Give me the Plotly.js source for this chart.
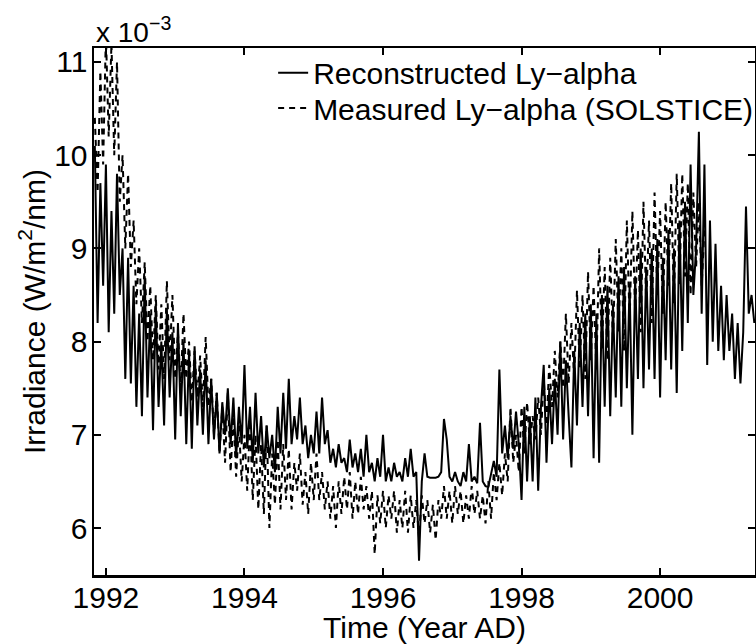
<!DOCTYPE html>
<html>
<head>
<meta charset="utf-8">
<script src="https://cdn.plot.ly/plotly-3.0.1.min.js"></script>
<style>
  html, body { margin: 0; padding: 0; background: #fff; overflow: hidden; }
  #chart { width: 766px; height: 644px; }
</style>
</head>
<body>
<div id="chart"></div>
<script>
// Time axis (Year AD), sampled roughly every half solar rotation
const years = [
  1991.84,1991.88,1991.92,1991.96,1992.00,1992.04,1992.08,1992.12,1992.16,1992.20,1992.24,1992.28,1992.32,1992.36,1992.40,1992.44,1992.48,1992.52,1992.56,1992.60,1992.64,1992.68,1992.72,1992.76,1992.80,
  1992.84,1992.88,1992.92,1992.96,1993.00,1993.04,1993.08,1993.12,1993.16,1993.20,1993.24,1993.28,1993.32,1993.36,1993.40,1993.44,1993.48,1993.52,1993.56,1993.60,1993.64,1993.68,1993.72,1993.76,1993.80,
  1993.84,1993.88,1993.92,1993.96,1994.00,1994.04,1994.08,1994.12,1994.16,1994.20,1994.24,1994.28,1994.32,1994.36,1994.40,1994.44,1994.48,1994.52,1994.56,1994.60,1994.64,1994.68,1994.72,1994.76,1994.80,
  1994.84,1994.88,1994.92,1994.96,1995.00,1995.04,1995.08,1995.12,1995.16,1995.20,1995.24,1995.28,1995.32,1995.36,1995.40,1995.44,1995.48,1995.52,1995.56,1995.60,1995.64,1995.68,1995.72,1995.76,1995.80,
  1995.84,1995.88,1995.92,1995.96,1996.00,1996.04,1996.08,1996.12,1996.16,1996.20,1996.24,1996.28,1996.32,1996.36,1996.40,1996.44,1996.48,1996.52,1996.56,1996.60,1996.64,1996.68,1996.72,1996.76,1996.80,
  1996.84,1996.88,1996.92,1996.96,1997.00,1997.04,1997.08,1997.12,1997.16,1997.20,1997.24,1997.28,1997.32,1997.36,1997.40,1997.44,1997.48,1997.52,1997.56,1997.60,1997.64,1997.68,1997.72,1997.76,1997.80,
  1997.84,1997.88,1997.92,1997.96,1998.00,1998.04,1998.08,1998.12,1998.16,1998.20,1998.24,1998.28,1998.32,1998.36,1998.40,1998.44,1998.48,1998.52,1998.56,1998.60,1998.64,1998.68,1998.72,1998.76,1998.80,
  1998.84,1998.88,1998.92,1998.96,1999.00,1999.04,1999.08,1999.12,1999.16,1999.20,1999.24,1999.28,1999.32,1999.36,1999.40,1999.44,1999.48,1999.52,1999.56,1999.60,1999.64,1999.68,1999.72,1999.76,1999.80,
  1999.84,1999.88,1999.92,1999.96,2000.00,2000.04,2000.08,2000.12,2000.16,2000.20,2000.24,2000.28,2000.32,2000.36,2000.40,2000.44,2000.48,2000.52,2000.56,2000.60,2000.64,2000.68,2000.72,2000.76,2000.80,
  2000.84,2000.88,2000.92,2000.96,2001.00,2001.04,2001.08,2001.12,2001.16,2001.20,2001.24,2001.28,2001.32,2001.36
];

// Reconstructed Ly-alpha irradiance (units of 1e-3 W/m^2/nm)
const reconstructed = [
  10.1, 8.2, 9.7, 8.6, 9.9, 8.1, 9.4, 8.3, 9.8, 8.5,
  9.0, 7.6, 8.9, 7.55, 8.6, 7.3, 8.3,
  7.2, 8.7, 7.4, 8.3, 7.05, 8.4, 7.3, 8.0, 7.1, 8.35, 7.4, 8.1, 6.95,
  8.2, 7.2, 8.0, 6.9, 7.9, 6.85, 7.95, 7.1, 7.7, 7.0, 7.8, 6.9,
  7.6, 6.95, 7.45, 6.8, 7.35, 7.0, 7.5, 6.9, 7.4, 6.75, 7.3, 6.9, 7.75,
  6.85, 7.3, 6.7, 7.45, 6.8, 7.2, 6.65, 7.1, 6.75, 7.0, 6.6, 7.3, 6.8,
  7.45, 6.85, 7.6, 6.9, 7.2, 6.95, 7.4, 6.9, 7.1, 6.75, 7.0, 6.8, 7.25,
  6.8, 7.4, 6.9, 7.05, 6.7, 6.85, 6.65, 6.9, 6.7, 6.75, 6.6, 6.95, 6.65, 6.8,
  6.6, 6.85, 6.55, 7.0, 6.6, 6.7, 6.5, 6.75, 6.55, 7.0, 6.5, 6.65, 6.5, 6.7, 6.55, 6.6, 6.5, 6.75, 6.55,
  6.85, 6.55, 6.6, 5.65, 6.5, 6.8, 6.55, 6.54, 6.54, 6.54, 6.55, 6.6,
  7.17, 6.95, 6.55, 6.5, 6.6, 6.5, 6.45, 6.6, 6.5, 6.9, 6.5, 6.55, 6.48, 7.13, 6.5, 6.45,
  6.44, 6.6, 6.72, 6.55, 7.7, 6.8, 7.1, 6.75, 7.2, 6.85, 7.25, 6.9, 6.3,
  7.3, 6.5, 7.2, 6.5, 7.4, 6.4, 7.3, 7.75, 6.7, 7.5, 6.9, 7.6, 7.0,
  8.0, 6.95, 7.8, 7.2, 6.65, 7.9, 7.1, 8.2, 7.3, 8.3, 7.2, 8.4, 6.75,
  8.3, 6.7, 8.5, 7.3, 8.6, 7.2, 8.4, 7.4, 8.7, 7.3, 8.8, 7.5, 8.6,
  7.0, 8.7, 7.6, 9.0, 7.5, 8.8, 7.7, 9.0, 7.6, 9.1, 7.4, 8.9, 7.8,
  9.2, 7.7, 9.0, 7.45, 9.3, 7.9, 9.5, 8.2, 9.9, 8.5, 9.0, 10.25, 8.3,
  9.9, 7.75, 9.3, 8.0, 9.05, 7.9, 8.6, 7.8, 8.5, 7.9, 8.3, 7.6, 8.2, 7.55, 8.1, 9.45, 8.3, 8.5, 8.2
];

// Measured Ly-alpha (SOLSTICE) irradiance (units of 1e-3 W/m^2/nm)
const measured = [
  10.4, 9.6, 10.9, 9.9, 11.3, 10.2, 11.2, 10.0, 11.0, 9.5,
  10.0, 9.0, 9.8, 8.8, 9.3, 8.4, 9.0,
  8.2, 8.85, 8.0, 8.6, 7.8, 8.5, 7.7, 8.4, 7.6, 8.65, 7.8, 8.5, 7.6,
  8.1, 7.5, 8.3, 7.6, 8.0, 7.35, 7.9, 7.4, 7.85, 7.3, 8.05, 7.3,
  7.6, 7.0, 7.45, 6.8, 7.3, 6.7, 7.45, 6.6, 7.2, 6.55, 7.1, 6.5, 7.0,
  6.4, 7.15, 6.3, 7.0, 6.2, 6.9, 6.15, 7.1, 6.0, 6.8, 6.25, 6.95, 6.2,
  6.9, 6.3, 6.85, 6.2, 6.7, 6.4, 6.8, 6.25, 6.6, 6.15, 6.7, 6.3, 6.8,
  6.3, 6.6, 6.2, 6.5, 6.1, 6.45, 6.0, 6.5, 6.15, 6.55, 6.2, 6.6, 6.1, 6.5,
  6.15, 6.55, 6.2, 6.45, 6.1, 6.4, 5.72, 6.35, 6.05, 6.4, 6.0, 6.35, 6.1, 6.4, 5.95, 6.3, 6.0, 6.4, 5.95,
  6.35, 6.0, 6.3, 5.9, 6.35, 6.05, 6.3, 5.95, 6.25, 5.87, 6.3, 6.1,
  6.45, 6.1, 6.4, 6.05, 6.45, 6.15, 6.4, 6.05, 6.35, 6.1, 6.45, 6.15, 6.4, 6.1, 6.35, 6.05,
  6.5, 6.1, 6.6, 6.3, 6.7, 6.35, 6.8, 6.5, 7.3, 6.7, 7.0, 6.6, 7.3,
  6.8, 7.35, 6.9, 7.2, 6.95, 7.4, 7.0, 7.6, 7.1, 7.75, 7.3, 7.9, 7.4,
  8.0, 7.5, 8.3, 7.55, 8.2, 7.6, 8.55, 7.7, 8.5, 7.6, 8.75, 7.8, 8.6,
  7.7, 9.0, 7.9, 8.8, 7.8, 8.9, 8.0, 9.1, 8.1, 9.0, 7.9, 9.3, 8.2,
  9.4, 8.3, 9.2, 8.1, 9.5, 8.4, 9.3, 8.2, 9.6, 8.5, 9.4, 8.3, 9.5,
  8.6, 9.7, 8.4, 9.8, 8.6, 9.8, 8.7, 9.7, 8.5, 9.6, 8.8, 9.5, 8.6, 9.2
];

const xTickVals = [1992, 1994, 1996, 1998, 2000];
const xTickText = ['1992', '1994', '1996', '1998', '2000'];
const yTickVals = [6, 7, 8, 9, 10, 11];
const yTickText = ['6', '7', '8', '9', '10', '11'];

const FONT = 'Liberation Sans, Arial, Helvetica, sans-serif';
const FS = 30;

const traces = [
  {
    x: years.slice(0, reconstructed.length),
    y: reconstructed,
    type: 'scatter', mode: 'lines',
    name: 'Reconstructed Ly\u2212alpha',
    legend: 'legend',
    line: {color: 'black', width: 2}
  },
  {
    x: years.slice(0, measured.length),
    y: measured,
    type: 'scatter', mode: 'lines',
    name: 'Measured Ly\u2212alpha (SOLSTICE)',
    legend: 'legend2',
    line: {color: 'black', width: 2, dash: '6px,5px'}
  }
];

const axisCommon = {
  showline: true, linewidth: 2.5, linecolor: 'black', mirror: 'ticks',
  ticks: 'inside', ticklen: 7, tickwidth: 2, tickcolor: 'black',
  showgrid: false, zeroline: false,
  tickfont: {family: FONT, size: FS, color: 'black'}
};

const legendCommon = {
  xanchor: 'left', yanchor: 'middle',
  bgcolor: 'rgba(0,0,0,0)', borderwidth: 0,
  font: {family: FONT, size: FS, color: 'black'}
};

const layout = {
  width: 766, height: 644,
  margin: {l: 94, r: 8, t: 48, b: 69},
  paper_bgcolor: 'white', plot_bgcolor: 'white',
  font: {family: FONT, size: FS, color: 'black'},
  showlegend: true,
  legend: Object.assign({}, legendCommon, {x: 0.271, y: 0.953}),
  legend2: Object.assign({}, legendCommon, {x: 0.271, y: 0.886}),
  xaxis: Object.assign({}, axisCommon, {
    range: [1991.828, 2001.37],
    tickvals: xTickVals, ticktext: xTickText,
    ticklabelstandoff: -6,
    title: {text: 'Time (Year AD)', font: {family: FONT, size: FS, color: 'black'}, standoff: 0}
  }),
  yaxis: Object.assign({}, axisCommon, {
    range: [5.496, 11.15],
    tickvals: yTickVals, ticktext: yTickText,
    ticklabelstandoff: -2,
    title: {text: 'Irradiance (W/m<sup>2</sup>/nm)', font: {family: FONT, size: FS, color: 'black'}, standoff: 0}
  }),
  annotations: [{
    xref: 'paper', yref: 'paper', x: 0, y: 1,
    xanchor: 'left', yanchor: 'bottom', yshift: -2,
    text: 'x 10<sup>\u22123</sup>', showarrow: false,
    font: {family: FONT, size: 28, color: 'black'}
  }]
};

Plotly.newPlot('chart', traces, layout, {displayModeBar: false, staticPlot: true});
</script>
</body>
</html>
